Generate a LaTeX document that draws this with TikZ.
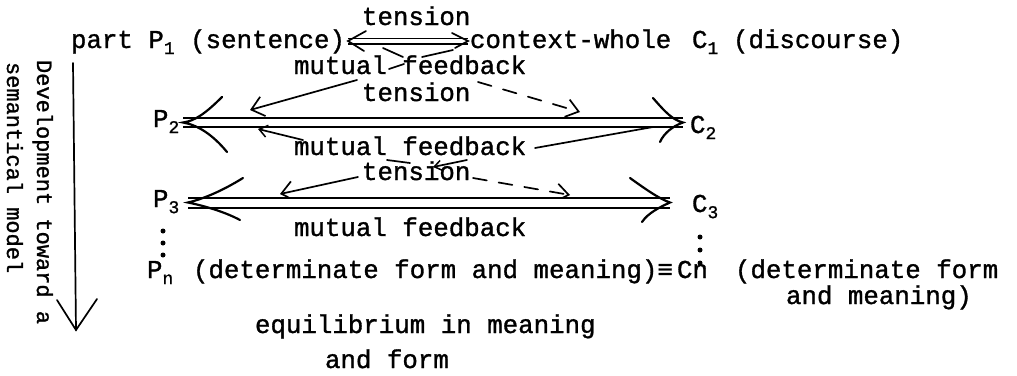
\documentclass[tikz,border=0pt]{standalone}
\usepackage{fontspec}
\setmainfont[FakeBold=1.2]{Liberation Mono}
\usetikzlibrary{arrows.meta}
\newcommand\twfont{\fontsize{25.8}{30}\selectfont}
\newcommand\twsmall{\fontsize{22}{26}\selectfont}
\newcommand\lowsub[1]{\raisebox{-0.45ex}{\fontsize{18}{18}\selectfont #1}}
\begin{document}
\begin{tikzpicture}[x=1pt,y=-1pt,
  txt/.style={anchor=base west, inner sep=0pt, outer sep=0pt, font=\twfont},
  vtxt/.style={anchor=base west, inner sep=0pt, outer sep=0pt, font=\twsmall, rotate=-90},
  dblline/.style={double, double distance=7pt, line width=2pt},
  headstroke/.style={line width=2.2pt, line cap=round},
  pen/.style={line width=1.7pt, line cap=round},
  barb/.style={-{Straight Barb[length=12pt,width=20pt,line width=1.7pt]}},
  dsh/.style={dash pattern=on 14pt off 12pt},
  dotmark/.style={circle, fill, inner sep=0pt, minimum size=5pt}]
\useasboundingbox (0,0) rectangle (1017,375);

% ---- texts
\node[txt] (t1) at (362,25) {tension};
\node[txt, anchor=base east] (p1) at (345,48) {part P\lowsub{1} (sentence)};
\node[txt] (c1) at (470,48) {context-whole};
\node[txt] (c1l) at (692,48) {C\lowsub{1}};
\node[txt] (c1t) at (733,48) {(discourse)};
\node[txt] (m1) at (294,74) {mutual feedback};
\node[txt] (t2) at (362,101) {tension};
\node[txt] (p2) at (153,127) {P\lowsub{2}};
\node[txt] (c2) at (690,133) {C\lowsub{2}};
\node[txt] (m2) at (294,155) {mutual feedback};
\node[txt] (t3) at (362,180) {tension};
\node[txt] (p3) at (153,207) {P\lowsub{3}};
\node[txt] (c3) at (692,212) {C\lowsub{3}};
\node[txt] (m3) at (294,236) {mutual feedback};
\node[txt] (pn) at (147,278) {P\lowsub{n}};
\node[txt] (pnt) at (193,278) {(determinate form and meaning)≡};
\node[txt] (cn) at (677,278) {Cn};
\node[txt] (cnt) at (735,278) {(determinate form};
\node[txt] (am) at (786,304) {and meaning)};
\node[txt] (eq) at (255,333) {equilibrium in meaning};
\node[txt] (af) at (325,368) {and form};
\node[vtxt] (v1) at (37,60) {Development toward a};
\node[vtxt] (v2) at (7,62) {semantical model};

% ---- dots
\foreach \y [count=\i] in {231,243,255} \node[dotmark] (ld\i) at (163,\y) {};
\foreach \y [count=\i] in {237,250,263} \node[dotmark] (rd\i) at (700,\y) {};

% ---- vertical development arrow
\coordinate (vtop) at (73,63);
\coordinate (vbot) at (76,330);
\draw[pen] (vtop) -- (vbot);
\draw[pen] (57,300) -- (vbot) -- (97,299);

% ---- row 1 double arrow
\coordinate (a1l) at (348,41);
\coordinate (a1r) at (468,41);
\draw[double, double distance=4pt, line width=1.5pt] (a1l) -- (a1r);
\draw[pen] (366,31) -- (a1l) -- (364,51);
\draw[pen] (452,33) -- (a1r) -- (455,48);
% typed strokes under the arrow
\draw[pen] (383,48) -- (403,57);
\draw[pen] (422,57) -- (453,50);
\draw[pen] (389,69) -- (404,64);

% ---- row1 -> row2 arrows
\coordinate (f1s) at (357,80);
\coordinate (f1e) at (250,110);
\draw[pen, barb] (f1s) -- (f1e);
\coordinate (f2s) at (478,82);
\coordinate (f2e) at (580,112);
\draw[pen, dsh, -{Straight Barb[length=12pt,width=18pt,line width=1.7pt]}] (f2s) -- (f2e);

% ---- row 2 double arrow P2 - C2
\coordinate (a2l) at (183,122.5);
\coordinate (a2r) at (683,122.5);
\draw[dblline] (a2l) -- (a2r);
\draw[headstroke] (222,97) .. controls (206,113) and (195,121) .. (a2l)
                           .. controls (198,125) and (213,135) .. (227,152);
\draw[headstroke] (653,98) .. controls (666,113) and (673,120) .. (a2r)
                           .. controls (673,126) and (664,133) .. (660,142);

% ---- row 2 feedback strokes
\coordinate (g1s) at (303,140);
\coordinate (g1e) at (258,129);
\draw[pen, -{Straight Barb[length=8pt,width=12pt,line width=1.5pt]}] (g1s) -- (g1e);
\coordinate (g2s) at (535,148);
\coordinate (g2e) at (653,127);
\draw[pen] (g2s) -- (g2e);
\draw[pen] (387,160) -- (410,163);
\coordinate (g3s) at (467,160);
\coordinate (g3e) at (433,167);
\draw[pen, -{Straight Barb[length=7pt,width=10pt,line width=1.5pt]}] (g3s) -- (g3e);

% ---- row 2 -> row 3 tension arrows
\coordinate (h1s) at (358,177);
\coordinate (h1e) at (280,194);
\draw[pen, barb] (h1s) -- (h1e);
\coordinate (h2s) at (473,178);
\coordinate (h2e) at (570,195);
\draw[pen, dsh, -{Straight Barb[length=12pt,width=18pt,line width=1.7pt]}] (h2s) -- (h2e);

% ---- row 3 double arrow P3 - C3
\coordinate (a3l) at (188,202.5);
\coordinate (a3r) at (670,202.5);
\draw[dblline, double distance=8pt] (a3l) -- (a3r);
\draw[headstroke] (243,178) .. controls (222,191) and (203,199) .. (a3l)
                            .. controls (205,206) and (225,212) .. (240,220);
\draw[headstroke] (630,178) .. controls (648,191) and (660,199) .. (a3r)
                            .. controls (660,207) and (648,213) .. (642,222);
\end{tikzpicture}
\end{document}
